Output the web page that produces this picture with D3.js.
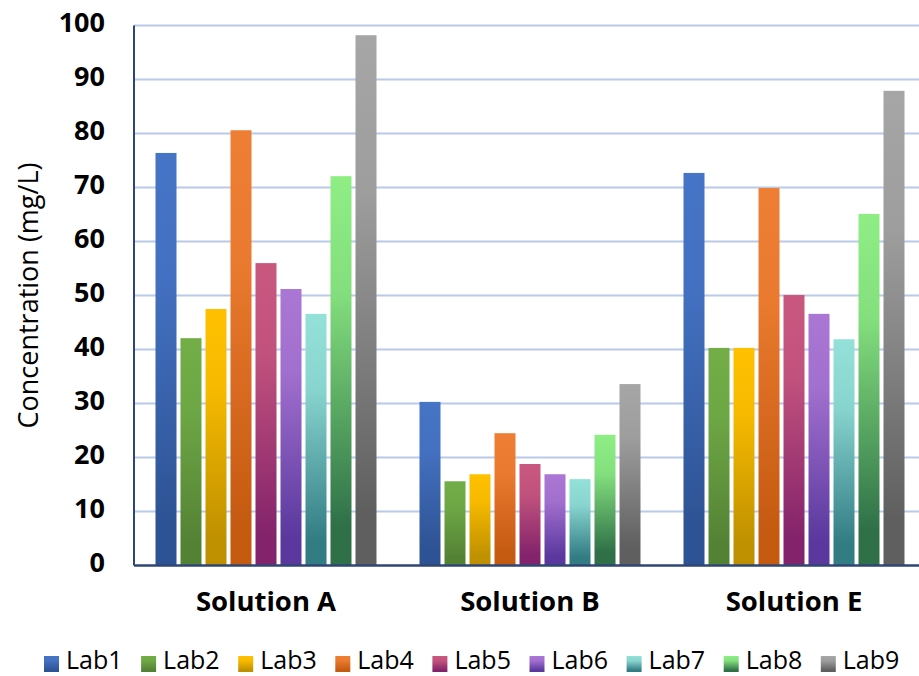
<!DOCTYPE html>
<html>
<head>
<meta charset="utf-8">
<script src="https://cdn.jsdelivr.net/npm/d3@7"></script>
<style>
  html, body { margin: 0; padding: 0; background: #ffffff; }
  svg { display: block; }
</style>
</head>
<body>
<svg id="chart" width="919" height="676"></svg>
<script>
const categories = ["Solution A", "Solution B", "Solution E"];
const labs = ["Lab1", "Lab2", "Lab3", "Lab4", "Lab5", "Lab6", "Lab7", "Lab8", "Lab9"];
const solutionA = [76.4, 42.1, 47.5, 80.6, 56.0, 51.2, 46.6, 72.1, 98.2];
const solutionB = [30.3, 15.6, 16.9, 24.5, 18.8, 16.9, 16.0, 24.2, 33.6];
const solutionE = [72.7, 40.3, 40.3, 69.9, 50.1, 46.6, 41.9, 65.1, 87.9];
const yTicks = [0, 10, 20, 30, 40, 50, 60, 70, 80, 90, 100];
const topColors = ["#4674c6", "#72ad47", "#ffc000", "#ee7e33", "#c9587f", "#ab77d4", "#94e1d9", "#8eee84", "#a6a6a6"];
const bottomColors = ["#2e5394", "#548235", "#bf9000", "#c55a11", "#83236b", "#5a389e", "#327c84", "#2f7048", "#5f5f5f"];

(function () {
const seriesByCategory = [solutionA, solutionB, solutionE];
const data = categories.map((c, i) => ({ category: c, values: labs.map((l, j) => ({ lab: l, index: j, value: seriesByCategory[i][j] })) }));

const svg = d3.select("#chart");
const pLeft = 134, pRight = 926, pTop = 25.5, pBottom = 565.5;

const x0 = d3.scaleBand().domain(categories).range([pLeft, pRight]).paddingInner(43 / 264).paddingOuter(21.5 / 264);
const x1 = d3.scaleBand().domain(labs).range([0, x0.bandwidth()]).paddingInner(4 / 25).paddingOuter(0);
const y = d3.scaleLinear().domain([0, 100]).range([pBottom, pTop]);

const defs = svg.append("defs");
labs.forEach((l, j) => {
  const g = defs.append("linearGradient").attr("id", "grad" + j)
    .attr("x1", 0).attr("y1", 0).attr("x2", 0).attr("y2", 1);
  const mid = d3.interpolateRgb(topColors[j], bottomColors[j])(0.12);
  g.append("stop").attr("offset", "0%").attr("stop-color", topColors[j]);
  g.append("stop").attr("offset", "30%").attr("stop-color", mid);
  g.append("stop").attr("offset", "90%").attr("stop-color", bottomColors[j]);
  g.append("stop").attr("offset", "100%").attr("stop-color", bottomColors[j]);
});

svg.append("g").selectAll("line").data(yTicks.filter(t => t > 0)).join("line")
  .attr("x1", pLeft).attr("x2", 919)
  .attr("y1", d => y(d)).attr("y2", d => y(d))
  .attr("stroke", "#b9c9e8").attr("stroke-width", 2);

svg.append("g").selectAll("text").data(yTicks).join("text")
  .attr("x", 105).attr("y", d => y(d) - 4.5)
  .attr("text-anchor", "end").attr("dominant-baseline", "central")
  .attr("font-family", "'Open Sans', sans-serif").attr("font-weight", "bold")
  .attr("font-size", 27).attr("fill", "#000")
  .text(d => d);

svg.append("text")
  .attr("transform", `translate(27, ${(pTop + pBottom) / 2}) rotate(-90)`)
  .attr("text-anchor", "middle").attr("dominant-baseline", "central")
  .attr("font-family", "'Open Sans', sans-serif").attr("font-size", 27).attr("fill", "#000")
  .text("Concentration (mg/L)");

const groups = svg.append("g").selectAll("g").data(data).join("g")
  .attr("transform", d => `translate(${x0(d.category)},0)`);
groups.selectAll("rect").data(d => d.values).join("rect")
  .attr("x", d => x1(d.lab)).attr("width", x1.bandwidth())
  .attr("y", d => y(d.value)).attr("height", d => y(0) - y(d.value))
  .attr("fill", d => `url(#grad${d.index})`);

svg.append("line").attr("x1", pLeft).attr("x2", pLeft).attr("y1", pTop).attr("y2", pBottom)
  .attr("stroke", "#2f4674").attr("stroke-width", 2);
svg.append("line").attr("x1", pLeft).attr("x2", 919).attr("y1", pBottom).attr("y2", pBottom)
  .attr("stroke", "#2f4674").attr("stroke-width", 2.5);

svg.append("g").selectAll("text").data(categories).join("text")
  .attr("x", d => x0(d) + x0.bandwidth() / 2).attr("y", 611)
  .attr("text-anchor", "middle")
  .attr("font-family", "'Open Sans', sans-serif").attr("font-weight", "bold")
  .attr("font-size", 27.5).attr("fill", "#000")
  .text(d => d);

const legend = svg.append("g").selectAll("g").data(labs).join("g")
  .attr("transform", (d, i) => `translate(${44 + i * 97.1}, 0)`);
legend.append("rect").attr("x", 0).attr("y", 656).attr("width", 15).attr("height", 16)
  .attr("fill", (d, i) => `url(#grad${i})`);
legend.append("text").attr("x", 22).attr("y", 669)
  .attr("font-family", "'Open Sans', sans-serif").attr("font-size", 25).attr("fill", "#000")
  .text(d => d);
})();
</script>
</body>
</html>
